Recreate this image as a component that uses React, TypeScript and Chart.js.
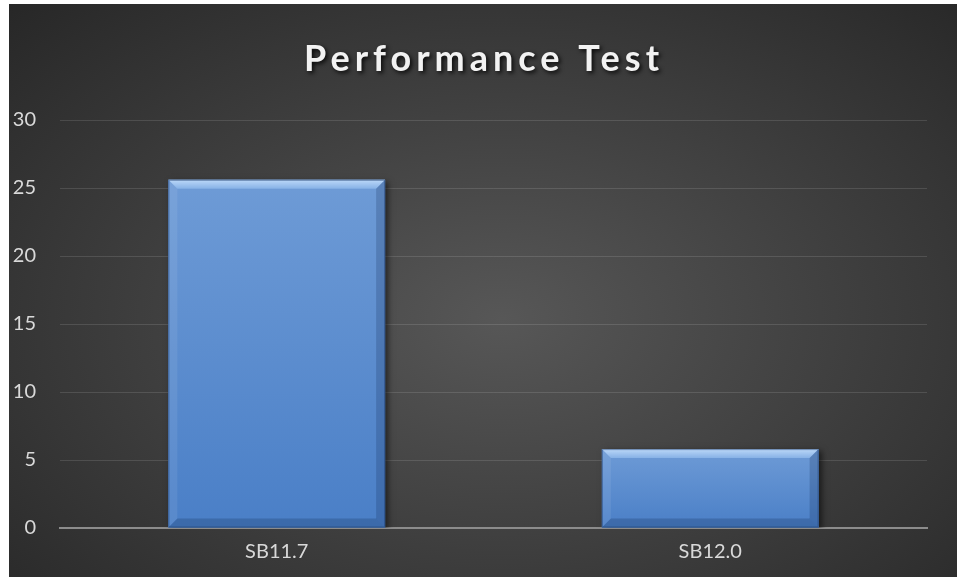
import { useEffect, useRef } from "react";
import { Chart, registerables } from "chart.js";

Chart.register(...registerables);

const categories = ["SB11.7", "SB12.0"];
const values = [25.6, 5.8];
const yMin = 0;
const yMax = 30;
const yStep = 5;
const titleText = "Performance Test";

const FONT = "Lato, 'Open Sans', sans-serif";

const titlePlugin = {
  id: "shadowTitle",
  afterDraw(chart: any) {
    const ctx = chart.ctx;
    ctx.save();
    ctx.font = `bold 36px ${FONT}`;
    (ctx as any).letterSpacing = "5px";
    ctx.textAlign = "center";
    ctx.textBaseline = "middle";
    ctx.shadowColor = "rgba(0,0,0,0.85)";
    ctx.shadowBlur = 4;
    ctx.shadowOffsetX = 2;
    ctx.shadowOffsetY = 2;
    ctx.fillStyle = "#f2f2f2";
    ctx.fillText(titleText, chart.width / 2 + 1, 55);
    ctx.restore();
  },
};

const bevelPlugin = {
  id: "bevelBars",
  beforeDatasetsDraw(chart: any) {
    const ctx = chart.ctx;
    ctx.save();
    ctx.shadowColor = "rgba(0,0,0,0.55)";
    ctx.shadowBlur = 6;
    ctx.shadowOffsetX = 3;
    ctx.shadowOffsetY = 2;
  },
  afterDatasetsDraw(chart: any) {
    const ctx = chart.ctx;
    ctx.restore();
    const meta = chart.getDatasetMeta(0);
    meta.data.forEach((bar: any) => {
      const { x, y, base, width } = bar.getProps(["x", "y", "base", "width"], true);
      const l = x - width / 2;
      const r = x + width / 2;
      const t = Math.min(y, base);
      const b = Math.max(y, base);
      const bv = Math.min(9, (b - t) / 2);
      ctx.save();
      const g = ctx.createLinearGradient(0, t, 0, b);
      g.addColorStop(0, "#6e9bd6");
      g.addColorStop(1, "#4a7fc7");
      ctx.fillStyle = g;
      ctx.fillRect(l, t, r - l, b - t);
      const gt = ctx.createLinearGradient(0, t, 0, t + bv);
      gt.addColorStop(0, "#bcd8f8");
      gt.addColorStop(1, "#86b1e6");
      ctx.fillStyle = gt;
      ctx.beginPath();
      ctx.moveTo(l, t);
      ctx.lineTo(r, t);
      ctx.lineTo(r - bv, t + bv);
      ctx.lineTo(l + bv, t + bv);
      ctx.closePath();
      ctx.fill();
      ctx.fillStyle = "rgba(255,255,255,0.08)";
      ctx.beginPath();
      ctx.moveTo(l, t);
      ctx.lineTo(l + bv, t + bv);
      ctx.lineTo(l + bv, b - bv);
      ctx.lineTo(l, b);
      ctx.closePath();
      ctx.fill();
      ctx.fillStyle = "rgba(10,30,70,0.2)";
      ctx.beginPath();
      ctx.moveTo(r, t);
      ctx.lineTo(r - bv, t + bv);
      ctx.lineTo(r - bv, b - bv);
      ctx.lineTo(r, b);
      ctx.closePath();
      ctx.fill();
      ctx.fillStyle = "rgba(10,30,70,0.22)";
      ctx.beginPath();
      ctx.moveTo(l, b);
      ctx.lineTo(l + bv, b - bv);
      ctx.lineTo(r - bv, b - bv);
      ctx.lineTo(r, b);
      ctx.closePath();
      ctx.fill();
      ctx.strokeStyle = "rgba(30,60,110,0.5)";
      ctx.lineWidth = 1;
      ctx.strokeRect(l + 0.5, t + 0.5, r - l - 1, b - t - 1);
      ctx.restore();
    });
  },
};

export default function App() {
  const ref = useRef<HTMLCanvasElement | null>(null);

  useEffect(() => {
    if (!ref.current) return;
    const chart = new Chart(ref.current, {
      type: "bar",
      data: {
        labels: categories,
        datasets: [
          {
            label: "Performance",
            data: values,
            backgroundColor: "#5a8dd0",
            borderWidth: 0,
            categoryPercentage: 1,
            barPercentage: 0.5,
          },
        ],
      },
      options: {
        animation: false,
        responsive: true,
        maintainAspectRatio: false,
        layout: { padding: { top: 116, left: 4, right: 30, bottom: 12 } },
        plugins: {
          legend: { display: false },
          tooltip: { enabled: false },
          title: { display: false },
        },
        scales: {
          x: {
            grid: { display: false, drawTicks: false },
            border: { display: true, color: "#8c8c8c", width: 2 },
            ticks: {
              color: "#d9d9d9",
              padding: 12,
              font: { family: FONT, size: 20 },
            },
            afterFit(scale: any) {
              scale.height = 37;
            },
          },
          y: {
            min: yMin,
            max: yMax,
            ticks: {
              stepSize: yStep,
              color: "#d9d9d9",
              padding: 24,
              font: { family: FONT, size: 20 },
            },
            grid: { color: "rgba(255,255,255,0.12)", lineWidth: 1, drawTicks: false },
            border: { display: false },
            afterFit(scale: any) {
              scale.width = 47;
            },
          },
        },
      },
      plugins: [titlePlugin, bevelPlugin],
    });
    return () => chart.destroy();
  }, []);

  return (
    <div
      style={{
        position: "absolute",
        left: 9,
        top: 4,
        width: 948,
        height: 573,
        background:
          "radial-gradient(ellipse 75% 80% at 52% 55%, #575757 0%, #3c3c3c 55%, #262626 100%)",
      }}
    >
      <canvas ref={ref} />
    </div>
  );
}
